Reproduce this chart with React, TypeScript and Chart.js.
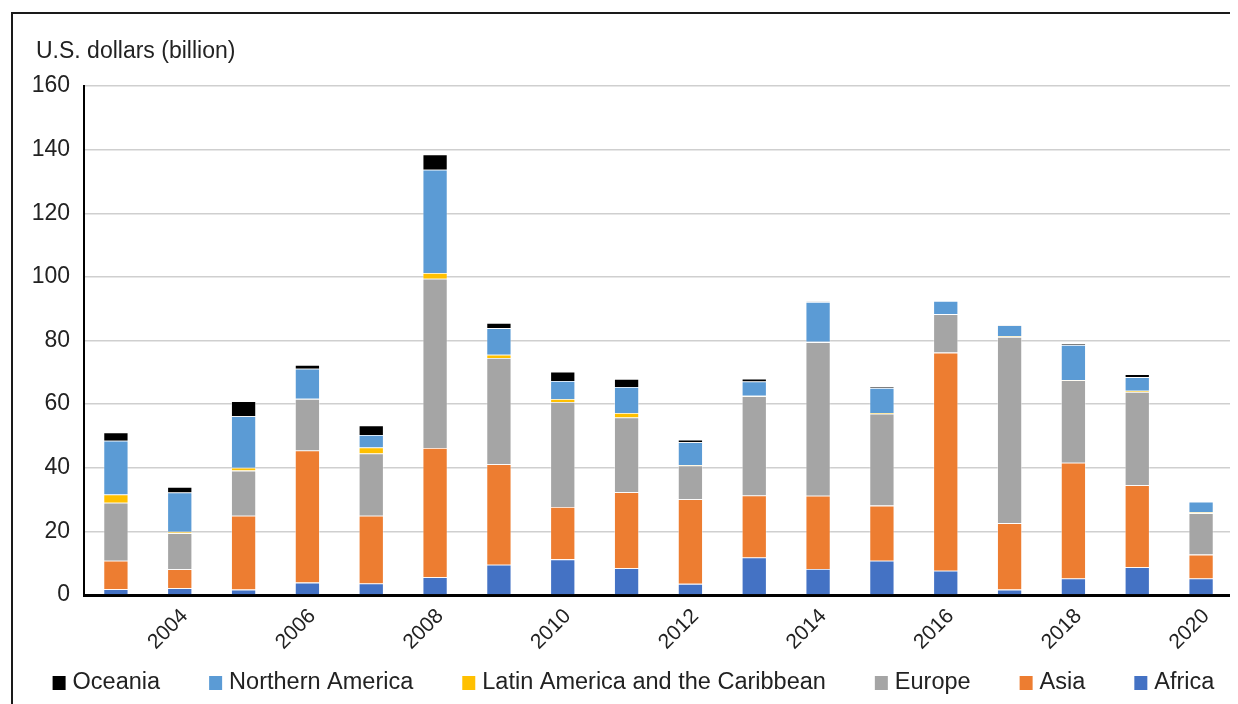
import React, { useEffect, useRef } from 'react';
import { Chart, registerables } from 'chart.js';

Chart.register(...registerables);

const years = ['2003', '2004', '2005', '2006', '2007', '2008', '2009', '2010', '2011', '2012', '2013', '2014', '2015', '2016', '2017', '2018', '2019', '2020'];

const africa = [1.8, 2.1, 1.7, 3.9, 3.6, 5.6, 9.5, 11.2, 8.4, 3.5, 11.8, 8.2, 10.8, 7.6, 1.7, 5.2, 8.7, 5.2];
const asia = [9.0, 6.0, 23.2, 41.5, 21.3, 40.6, 31.6, 16.5, 23.9, 26.6, 19.5, 23.0, 17.3, 68.6, 20.9, 36.4, 25.8, 7.5];
const europe = [18.2, 11.3, 14.2, 16.2, 19.6, 53.2, 33.4, 33.0, 23.5, 10.6, 31.2, 48.3, 28.9, 12.1, 58.5, 25.9, 29.3, 13.0];
const latinAmerica = [2.6, 0.5, 0.9, 0.1, 1.9, 1.8, 1.0, 0.9, 1.4, 0.2, 0.1, 0.1, 0.2, 0.0, 0.2, 0.1, 0.4, 0.3];
const northernAmerica = [16.9, 12.3, 16.2, 9.4, 3.9, 32.5, 8.4, 5.7, 8.2, 7.1, 4.5, 12.5, 7.9, 4.1, 3.5, 11.0, 4.3, 3.3];
const oceania = [2.6, 1.8, 4.7, 1.2, 3.0, 4.8, 1.6, 2.9, 2.5, 0.8, 0.9, 0.1, 0.3, 0.1, 0.1, 0.3, 0.9, 0.0];

const unitLabel = 'U.S. dollars (billion)';
const yMin = 0;
const yMax = 160;
const yStep = 20;

const FONT = '"Liberation Sans", Arial, sans-serif';
const TEXT = '#222222';

export default function App() {
  const ref = useRef<HTMLCanvasElement>(null);

  useEffect(() => {
    if (!ref.current) return;
    const unitTitle = {
      id: 'unitTitle',
      afterDraw(chart: any) {
        const ctx = chart.ctx;
        ctx.save();
        ctx.font = `23px ${FONT}`;
        ctx.fillStyle = TEXT;
        ctx.textAlign = 'left';
        ctx.textBaseline = 'alphabetic';
        ctx.fillText(unitLabel, 28, 50);
        ctx.restore();
      },
    };
    const bottomLegend = {
      id: 'bottomLegend',
      afterDraw(chart: any) {
        const ctx = chart.ctx;
        const items = chart.data.datasets
          .map((d: any) => ({ label: d.label, color: d.backgroundColor }))
          .reverse();
        const box = 13;
        const boxH = 14;
        const gapText = 7;
        const gapItem = 49;
        ctx.save();
        ctx.font = `23.5px ${FONT}`;
        const widths = items.map((it: any) => box + gapText + ctx.measureText(it.label).width);
        const total = widths.reduce((a: number, b: number) => a + b, 0) + gapItem * (items.length - 1);
        let x = 625.5 - total / 2;
        const baseline = 681;
        items.forEach((it: any, i: number) => {
          ctx.fillStyle = it.color;
          ctx.fillRect(x, baseline - 13, box, boxH);
          ctx.fillStyle = TEXT;
          ctx.textAlign = 'left';
          ctx.textBaseline = 'alphabetic';
          ctx.fillText(it.label, x + box + gapText, baseline);
          x += widths[i] + gapItem;
        });
        ctx.restore();
      },
    };
    const seg = (label: string, data: number[], color: string) => ({
      label,
      data,
      backgroundColor: color,
      borderColor: 'rgba(255,255,255,0.5)',
      borderWidth: 0.8,
      barPercentage: 0.39,
      categoryPercentage: 1,
    });
    const chart = new Chart(ref.current, {
      type: 'bar',
      data: {
        labels: years,
        datasets: [
          seg('Africa', africa, '#4472C4'),
          seg('Asia', asia, '#ED7D31'),
          seg('Europe', europe, '#A5A5A5'),
          seg('Latin America and the Caribbean', latinAmerica, '#FFC000'),
          seg('Northern America', northernAmerica, '#5B9BD5'),
          seg('Oceania', oceania, '#000000'),
        ],
      },
      options: {
        responsive: false,
        animation: false,
        devicePixelRatio: 1,
        layout: { padding: { left: 0, top: 78, right: 0, bottom: 0 } },
        plugins: {
          legend: { display: false },
          tooltip: { enabled: false },
          title: { display: false },
        },
        scales: {
          x: {
            stacked: true,
            grid: { display: false, drawTicks: false },
            border: { display: true, color: '#000', width: 3 },
            ticks: {
              autoSkip: false,
              minRotation: 45,
              maxRotation: 45,
              padding: 9,
              labelOffset: 5,
              color: TEXT,
              font: { family: FONT, size: 21 },
              callback: (_v: any, i: number) => (i % 2 === 1 ? years[i] : ''),
            },
            afterFit: (s: any) => {
              s.height = 109;
            },
          },
          y: {
            stacked: true,
            min: yMin,
            max: yMax,
            ticks: {
              stepSize: yStep,
              padding: 14,
              color: TEXT,
              font: { family: FONT, size: 23 },
            },
            grid: { color: '#cfcfcf', lineWidth: 1.5, drawTicks: false },
            border: { display: true, color: '#000', width: 2 },
            afterFit: (s: any) => {
              s.width = 76;
            },
          },
        },
      },
      plugins: [unitTitle, bottomLegend],
    } as any);
    return () => chart.destroy();
  }, []);

  return (
    <div style={{ position: 'relative', width: 1230, height: 696 }}>
      <div
        style={{
          position: 'absolute',
          left: 3,
          top: 4,
          right: 0,
          bottom: 0,
          borderTop: '2px solid #1a1a1a',
          borderLeft: '2px solid #1a1a1a',
        }}
      />
      <canvas
        ref={ref}
        width={1225}
        height={696}
        style={{ position: 'absolute', left: 0, top: 0, width: 1225, height: 696 }}
      />
    </div>
  );
}
